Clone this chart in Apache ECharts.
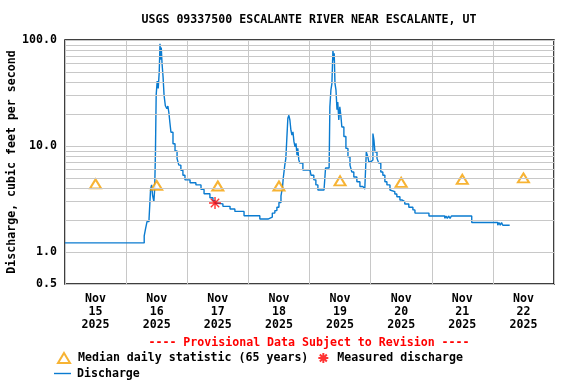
<!DOCTYPE html>
<html>
<head>
<meta charset="utf-8">
<script src="https://cdn.jsdelivr.net/npm/echarts@6/dist/echarts.min.js"></script>
<style>
html,body{margin:0;padding:0;background:#fff}
#chart{width:576px;height:384px}
</style>
</head>
<body>
<div id="chart"></div>
<script>
// hours since Nov 15 2025 00:00, discharge in cfs
var hours = [0, 31.1, 31.6, 32.2, 33.0, 33.6, 34.0, 34.4, 34.9, 35.2, 35.5, 35.8, 36.2, 36.6, 37.0, 37.3, 37.6, 37.8, 38.1, 38.5,
  38.9, 39.4, 40.0, 40.4, 40.8, 41.2, 41.6, 42.4, 43.2, 44.0, 44.7, 45.5, 46.3, 47.1, 49.1, 51.4, 53.4, 54.6, 56.9, 58.1,
  58.9, 59.7, 62.0, 64.8, 66.7, 70.3, 76.5, 79.7, 81.4, 82.4, 83.2, 84.0, 84.8, 85.4, 85.7, 86.3, 86.7, 87.1, 87.5, 87.9,
  88.3, 88.7, 89.1, 89.5, 89.9, 90.3, 90.7, 91.1, 91.4, 91.8, 92.2, 93.4, 96.2, 96.6, 97.7, 98.5, 99.3, 100.1, 100.5, 100.9,
  101.3, 101.7, 102.3, 103.7, 104.0, 104.4, 104.8, 105.2, 105.5, 105.7, 106.0, 106.4, 106.8, 107.1, 107.5, 107.9, 108.3, 108.7, 109.5, 110.3,
  111.1, 111.9, 112.6, 113.4, 114.6, 115.8, 117.0, 117.7, 118.3, 118.9, 119.3, 120.1, 120.9, 121.3, 121.7, 122.5, 123.2, 124.0, 124.8, 125.6,
  126.4, 127.6, 128.3, 129.5, 130.3, 131.5, 132.3, 133.4, 135.0, 136.6, 137.4, 142.9, 149.1, 149.6, 150.1, 150.6, 151.2, 151.7, 159.7, 169.9,
  170.4, 170.9, 171.4, 171.9, 174.6];
var cfs = [1.22, 1.42, 1.65, 1.94, 2.06, 3.9, 4.3, 3.4, 3.0, 3.9, 8.3, 30.4, 40.9, 35, 50, 92, 65, 85, 60, 45,
  30, 24, 22.5, 23.8, 20.5, 16.5, 13.5, 10.5, 9.0, 7.6, 6.6, 5.9, 5.3, 4.8, 4.5, 4.3, 3.9, 3.55, 3.25, 3.05,
  2.89, 2.85, 2.7, 2.55, 2.42, 2.2, 2.05, 2.14, 2.33, 2.46, 2.65, 2.93, 3.38, 4.1, 5.0, 6.6, 7.6, 11.8, 18.3, 19.5,
  17.6, 14.1, 12.7, 13.6, 11.0, 9.85, 10.6, 8.2, 9.5, 7.4, 6.9, 5.95, 5.7, 5.3, 4.8, 4.3, 3.85, 3.75, 3.85, 3.75,
  3.85, 3.75, 6.2, 6.4, 23.4, 33.6, 38.8, 80, 64, 75, 39, 33.6, 22, 26, 17.6, 23.4, 19.5, 15.1, 12.3, 9.5,
  7.9, 6.6, 5.7, 5.1, 4.6, 4.15, 4.0, 3.92, 8.8, 7.9, 7.1, 7.4, 13.1, 11.4, 8.8, 7.65, 6.9, 5.7, 5.3, 4.6,
  4.3, 3.85, 3.72, 3.53, 3.33, 3.1, 2.99, 2.84, 2.65, 2.5, 2.33, 2.19, 2.08, 2.19, 2.08, 2.19, 2.08, 2.19, 1.90, 1.79,
  1.90, 1.79, 1.90, 1.79, 1.79];

var medianHours = [12, 36, 60, 84, 108, 132, 156, 180];
var medianCfs = [4.4, 4.25, 4.2, 4.2, 4.7, 4.55, 4.85, 5.0];
var measuredHours = [58.9];
var measuredCfs = [2.9];

var dayLabels = ['Nov\n15\n2025', 'Nov\n16\n2025', 'Nov\n17\n2025', 'Nov\n18\n2025',
  'Nov\n19\n2025', 'Nov\n20\n2025', 'Nov\n21\n2025', 'Nov\n22\n2025'];
var yMinor = [2, 3, 4, 5, 6, 7, 8, 9, 20, 30, 40, 50, 60, 70, 80, 90];

var FONT = 'DejaVu Sans Mono';
var FS = 11.6;

function zip(a, b) {
  var out = [];
  for (var i = 0; i < a.length; i++) out.push([a[i], b[i]]);
  return out;
}

var myChart = echarts.init(document.getElementById('chart'));
var option = {
  backgroundColor: '#fff',
  animation: false,
  title: [{
    text: 'USGS 09337500 ESCALANTE RIVER NEAR ESCALANTE, UT',
    left: 309, top: 14, textAlign: 'center', padding: 0,
    textStyle: {fontFamily: FONT, fontSize: FS, fontWeight: 'bold', color: '#000'}
  }, {
    text: '---- Provisional Data Subject to Revision ----',
    left: 309, top: 337, textAlign: 'center', padding: 0,
    textStyle: {fontFamily: FONT, fontSize: FS, fontWeight: 'bold', color: '#f00'}
  }],
  legend: [{
    data: ['Median daily statistic (65 years)', 'Measured discharge'],
    left: 57, top: 352, padding: 0, itemWidth: 12, itemHeight: 10, itemGap: 9,
    textStyle: {fontFamily: FONT, fontSize: FS, fontWeight: 'bold', color: '#000', padding: [0, 0, 0, 3]}
  }, {
    data: [{name: 'Discharge', icon: 'rect'}],
    left: 54, top: 367.5, padding: 0, itemWidth: 17, itemHeight: 1.4,
    itemStyle: {color: '#0a7bd0'},
    textStyle: {fontFamily: FONT, fontSize: FS, fontWeight: 'bold', color: '#000', padding: [0, 0, 0, 1]}
  }],
  grid: {
    left: 65, right: 22, top: 40, bottom: 100,
    show: true, borderColor: '#000', borderWidth: 1.5, backgroundColor: '#fff',
    outerBoundsMode: 'none'
  },
  xAxis: [{
    type: 'value', position: 'top', min: 0, max: 192, interval: 24,
    axisLine: {show: false}, axisTick: {show: false}, axisLabel: {show: false},
    splitLine: {lineStyle: {color: '#c8c8c8', width: 1}}
  }, {
    type: 'category', position: 'bottom', data: dayLabels, boundaryGap: true,
    axisLine: {show: false}, axisTick: {show: false}, splitLine: {show: false},
    axisLabel: {interval: 0, margin: 8, lineHeight: 13, fontFamily: FONT, fontSize: FS, fontWeight: 'bold', color: '#000'}
  }],
  yAxis: {
    type: 'log', logBase: 10, min: 0.5, max: 100,
    name: 'Discharge, cubic feet per second', nameLocation: 'middle', nameGap: 47,
    nameMoveOverlap: false,
    nameTextStyle: {fontFamily: FONT, fontSize: FS, fontWeight: 'bold', color: '#000'},
    axisLine: {show: false}, axisTick: {show: false},
    axisLabel: {
      margin: 8, fontFamily: FONT, fontSize: FS, fontWeight: 'bold', color: '#000',
      formatter: function (v) { return Number(v).toFixed(1); }
    },
    splitLine: {lineStyle: {color: '#c8c8c8', width: 1}}
  },
  series: [{
    name: 'minor grid', type: 'line', data: [], z: 0, silent: true,
    markLine: {
      silent: true, symbol: ['none', 'none'], label: {show: false},
      lineStyle: {color: '#c8c8c8', width: 1, type: 'solid'},
      emphasis: {disabled: true},
      data: yMinor.map(function (v) { return {yAxis: v}; })
    }
  }, {
    name: 'Discharge', type: 'line', step: 'end', symbol: 'none', z: 3,
    data: zip(hours, cfs),
    lineStyle: {color: '#0a7bd0', width: 1.4},
    itemStyle: {color: '#0a7bd0'}
  }, {
    name: 'Median daily statistic (65 years)', type: 'scatter', z: 4,
    symbol: 'emptyTriangle', symbolSize: [11, 9],
    data: zip(medianHours, medianCfs),
    itemStyle: {color: '#f5a000', borderColor: '#f5a000', borderWidth: 1.1}
  }, {
    name: 'Measured discharge', type: 'scatter', z: 5,
    symbol: 'path://M6 0L6 12M0 6L12 6M1.8 1.8L10.2 10.2M10.2 1.8L1.8 10.2',
    symbolSize: 12,
    data: zip(measuredHours, measuredCfs),
    itemStyle: {color: '#f00', borderColor: '#f00', borderWidth: 1.4}
  }]
};
myChart.setOption(option);
</script>
</body>
</html>
